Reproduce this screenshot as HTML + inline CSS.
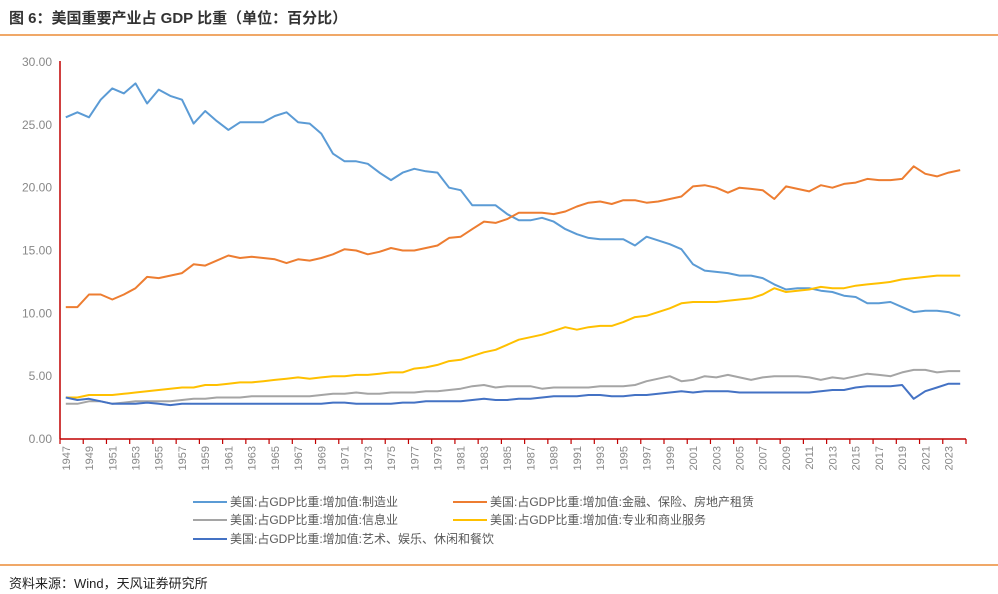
<!DOCTYPE html>
<html><head><meta charset="utf-8">
<style>
body{margin:0;background:#fff;font-family:"Liberation Sans","Noto Sans CJK SC",sans-serif;}
#wrap{position:relative;width:998px;height:594px;overflow:hidden;}
#title{position:absolute;left:9px;top:7px;font-size:15px;font-weight:bold;color:#333;}
.rule{position:absolute;left:0;width:998px;height:1.5px;background:#F0A868;}
#src{position:absolute;left:9px;top:573px;font-size:13px;color:#222;}
</style></head><body>
<div id="wrap">
<div id="title">图 6：美国重要产业占 GDP 比重（单位：百分比）</div>
<div class="rule" style="top:34px"></div>
<svg id="chart" width="998" height="594" style="position:absolute;left:0;top:0"></svg>
<div class="rule" style="top:564px"></div>
<div id="src">资料来源：Wind，天风证券研究所</div>
</div>
<script>
const years = []; for (let y = 1947; y <= 2024; y++) years.push(y);
const yTicks = [0, 5, 10, 15, 20, 25, 30];
const manufacturing = [25.6,26.0,25.6,27.0,27.9,27.5,28.3,26.7,27.8,27.3,
27.0,25.1,26.1,25.3,24.6,25.2,25.2,25.2,25.7,26.0,
25.2,25.1,24.3,22.7,22.1,22.1,21.9,21.2,20.6,21.2,
21.5,21.3,21.2,20.0,19.8,18.6,18.6,18.6,17.9,17.4,
17.4,17.6,17.3,16.7,16.3,16.0,15.9,15.9,15.9,15.4,
16.1,15.8,15.5,15.1,13.9,13.4,13.3,13.2,13.0,13.0,
12.8,12.3,11.9,12.0,12.0,11.8,11.7,11.4,11.3,10.8,
10.8,10.9,10.5,10.1,10.2,10.2,10.1,9.8];
const finance = [10.5,10.5,11.5,11.5,11.1,11.5,12.0,12.9,12.8,13.0,
13.2,13.9,13.8,14.2,14.6,14.4,14.5,14.4,14.3,14.0,
14.3,14.2,14.4,14.7,15.1,15.0,14.7,14.9,15.2,15.0,
15.0,15.2,15.4,16.0,16.1,16.7,17.3,17.2,17.5,18.0,
18.0,18.0,17.9,18.1,18.5,18.8,18.9,18.7,19.0,19.0,
18.8,18.9,19.1,19.3,20.1,20.2,20.0,19.6,20.0,19.9,
19.8,19.1,20.1,19.9,19.7,20.2,20.0,20.3,20.4,20.7,
20.6,20.6,20.7,21.7,21.1,20.9,21.2,21.4];
const information = [2.8,2.8,3.0,3.0,2.8,2.9,3.0,3.0,3.0,3.0,
3.1,3.2,3.2,3.3,3.3,3.3,3.4,3.4,3.4,3.4,
3.4,3.4,3.5,3.6,3.6,3.7,3.6,3.6,3.7,3.7,
3.7,3.8,3.8,3.9,4.0,4.2,4.3,4.1,4.2,4.2,
4.2,4.0,4.1,4.1,4.1,4.1,4.2,4.2,4.2,4.3,
4.6,4.8,5.0,4.6,4.7,5.0,4.9,5.1,4.9,4.7,
4.9,5.0,5.0,5.0,4.9,4.7,4.9,4.8,5.0,5.2,
5.1,5.0,5.3,5.5,5.5,5.3,5.4,5.4];
const professional = [3.3,3.3,3.5,3.5,3.5,3.6,3.7,3.8,3.9,4.0,
4.1,4.1,4.3,4.3,4.4,4.5,4.5,4.6,4.7,4.8,
4.9,4.8,4.9,5.0,5.0,5.1,5.1,5.2,5.3,5.3,
5.6,5.7,5.9,6.2,6.3,6.6,6.9,7.1,7.5,7.9,
8.1,8.3,8.6,8.9,8.7,8.9,9.0,9.0,9.3,9.7,
9.8,10.1,10.4,10.8,10.9,10.9,10.9,11.0,11.1,11.2,
11.5,12.0,11.7,11.8,11.9,12.1,12.0,12.0,12.2,12.3,
12.4,12.5,12.7,12.8,12.9,13.0,13.0,13.0];
const arts = [3.3,3.1,3.2,3.0,2.8,2.8,2.8,2.9,2.8,2.7,
2.8,2.8,2.8,2.8,2.8,2.8,2.8,2.8,2.8,2.8,
2.8,2.8,2.8,2.9,2.9,2.8,2.8,2.8,2.8,2.9,
2.9,3.0,3.0,3.0,3.0,3.1,3.2,3.1,3.1,3.2,
3.2,3.3,3.4,3.4,3.4,3.5,3.5,3.4,3.4,3.5,
3.5,3.6,3.7,3.8,3.7,3.8,3.8,3.8,3.7,3.7,
3.7,3.7,3.7,3.7,3.7,3.8,3.9,3.9,4.1,4.2,
4.2,4.2,4.3,3.2,3.8,4.1,4.4,4.4];
const seriesNames = ["美国:占GDP比重:增加值:制造业","美国:占GDP比重:增加值:金融、保险、房地产租赁","美国:占GDP比重:增加值:信息业","美国:占GDP比重:增加值:专业和商业服务","美国:占GDP比重:增加值:艺术、娱乐、休闲和餐饮"];

const NS = "http://www.w3.org/2000/svg";
const svg = document.getElementById('chart');
const X0 = 60, X1 = 966, Y0 = 439, Y1 = 62, YMAX = 30;
const bw = (X1 - X0) / years.length;
const xPos = i => X0 + bw * (i + 0.5);
const yPos = v => Y0 - (v / YMAX) * (Y0 - Y1);
function mk(tag, attrs, parent) { const e = document.createElementNS(NS, tag); for (const k in attrs) e.setAttribute(k, attrs[k]); (parent || svg).appendChild(e); return e; }

yTicks.forEach(t => {
  const lb = mk('text', {x: 52, y: yPos(t) + 4, 'text-anchor': 'end', 'font-size': 12, fill: '#888', 'font-family': 'Liberation Sans, sans-serif'});
  lb.textContent = t.toFixed(2);
  
  
});

const series = [
  {d: manufacturing, c: '#5B9BD5', n: 'manufacturing'},
  {d: finance, c: '#ED7D31', n: 'finance'},
  {d: information, c: '#A5A5A5', n: 'information'},
  {d: professional, c: '#FFC000', n: 'professional-services'},
  {d: arts, c: '#4472C4', n: 'arts-entertainment'}
];
series.forEach(s => {
  const pts = s.d.map((v, i) => xPos(i).toFixed(1) + ',' + yPos(v).toFixed(1)).join(' ');
  const pl = mk('polyline', {points: pts, fill: 'none', stroke: s.c, 'stroke-width': 2, 'stroke-linejoin': 'round'});
  
  
});

const ya = mk('line', {x1: X0, y1: Y1 - 1, x2: X0, y2: Y0, stroke: '#C00000', 'stroke-width': 1.5});


const xa = mk('line', {x1: X0, y1: Y0, x2: X1, y2: Y0, stroke: '#C00000', 'stroke-width': 1.5});



years.forEach((yr, i) => {
  if (i % 2 !== 0) return;
  const tx = X0 + bw * i;
  const tk = mk('line', {x1: tx, y1: Y0, x2: tx, y2: Y0 + 5, stroke: '#C00000', 'stroke-width': 1.2});
  
  
  const cx = xPos(i) + 4, cy = Y0 + 7;
  const lb = mk('text', {x: cx, y: cy, 'text-anchor': 'end', 'font-size': 11, fill: '#888', transform: 'rotate(-90 ' + cx + ' ' + cy + ')', 'font-family': 'Liberation Sans, sans-serif'});
  lb.textContent = yr;
  
  
});
const endTick = mk('line', {x1: X1, y1: Y0, x2: X1, y2: Y0 + 5, stroke: '#C00000', 'stroke-width': 1.2});



const legPos = [[193, 502], [453, 502], [193, 520], [453, 520], [193, 539]];
series.forEach((s, i) => {
  const [lx, ly] = legPos[i];
  const g = mk('g', {});
  
  
  mk('line', {x1: lx, y1: ly, x2: lx + 34, y2: ly, stroke: s.c, 'stroke-width': 2}, g);
  const t = mk('text', {x: lx + 37, y: ly + 4, 'font-size': 12, fill: '#595959', 'font-family': 'Liberation Sans, Noto Sans CJK SC, sans-serif'}, g);
  t.textContent = seriesNames[i];
});
</script>
</body></html>
